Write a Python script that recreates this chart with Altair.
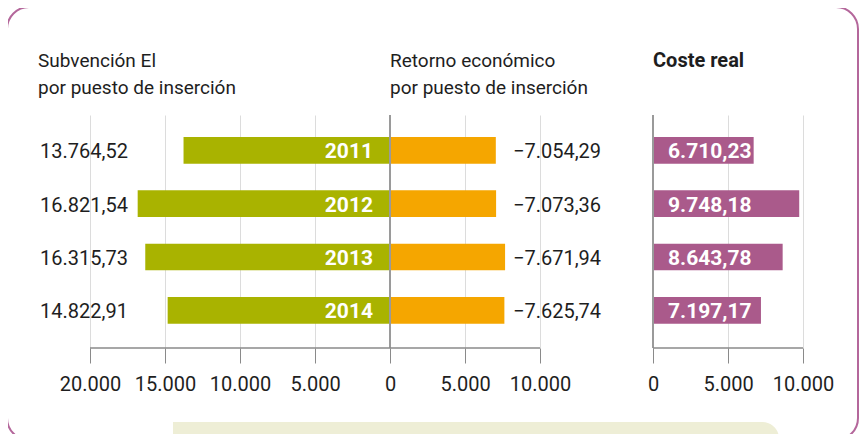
import altair as alt
import pandas as pd

# ---------------- data ----------------
years = ["2011", "2012", "2013", "2014"]
subvencion = [13764.52, 16821.54, 16315.73, 14822.91]
retorno = [-7054.29, -7073.36, -7671.94, -7625.74]
coste = [6710.23, 9748.18, 8643.78, 7197.17]

main_ticks = [-20000, -15000, -10000, -5000, 0, 5000, 10000]
coste_ticks = [0, 5000, 10000]

title_subv = ["Subvención El", "por puesto de inserción"]
title_ret = ["Retorno económico", "por puesto de inserción"]
title_coste = "Coste real"


def es(v):
    s = f"{abs(v):,.2f}".replace(",", "#").replace(".", ",").replace("#", ".")
    return ("\u2212" if v < 0 else "") + s


df = pd.DataFrame({"year": years, "subv": subvencion, "ret": retorno, "coste": coste})
df["subv_neg"] = -df["subv"]
df["ret_abs"] = df["ret"].abs()
df["subv_lbl"] = [es(v) for v in subvencion]
df["ret_lbl"] = [es(v) for v in retorno]
df["coste_lbl"] = [es(v) for v in coste]

one = pd.DataFrame({"k": [0]})

# ---------------- style ----------------
GREEN = "#a9b300"
ORANGE = "#f5a600"
PURPLE = "#aa5a8b"
FRAME = "#b4679b"
YELLOW = "#eeeed6"
TXT = "#1e1e1e"
FONT = "Roboto"

W, H = 713, 233
PAD = {"left": 82, "top": 107, "right": 56, "bottom": 86}
K = 0.015  # px per unit
main_domain = [-20000, -20000 + W / K]
coste_zero_px = 563
coste_domain = [-coste_zero_px / K, (W - coste_zero_px) / K]


def xs_main():
    return alt.Scale(domain=main_domain, nice=False, zero=False)


def xs_coste():
    return alt.Scale(domain=coste_domain, nice=False, zero=False)


label_expr = "replace(format(abs(datum.value), ','), ',', '.')"


def mk_axis(vals):
    return alt.Axis(
        values=vals, orient="bottom", labelExpr=label_expr, grid=True,
        gridColor="#dcdcdc", gridWidth=1, domain=False, ticks=True, tickSize=15,
        tickColor="#8a8a8a", tickWidth=1, labelPadding=11, labelFont=FONT,
        labelFontSize=20, labelColor=TXT, title=None, labelFlush=False,
        labelOverlap=False, zindex=0,
    )


def Y():
    return alt.Y("year:N", sort=years, axis=None,
                 scale=alt.Scale(paddingInner=0.5, paddingOuter=0.434, align=0.475))


base = alt.Chart(df)

green = base.mark_bar(color=GREEN).encode(
    x=alt.X("subv_neg:Q", scale=xs_main(), axis=mk_axis(main_ticks)),
    x2=alt.X2Datum(0), y=Y())
orange = base.mark_bar(color=ORANGE).encode(
    x=alt.X("ret_abs:Q", scale=xs_main(), axis=None),
    x2=alt.X2Datum(0), y=Y())
year_txt = base.mark_text(align="right", baseline="middle", dx=-17, dy=2, font=FONT,
                          fontWeight="bold", fontSize=21, color="white").encode(
    x=alt.XDatum(0, scale=xs_main(), axis=None), y=Y(), text="year:N")
zero_main = alt.Chart(one).mark_rule(color="#9a9a9a", strokeWidth=2).encode(
    x=alt.XDatum(0, scale=xs_main(), axis=None))
dom_main = alt.Chart(one).mark_rule(color="#8a8a8a", strokeWidth=1.5).encode(
    x=alt.XDatum(main_ticks[0], scale=xs_main(), axis=None),
    x2=alt.X2Datum(main_ticks[-1]), y=alt.value(H))
subv_txt = base.mark_text(align="left", baseline="middle", dy=2, font=FONT,
                          fontSize=20, color=TXT).encode(
    x=alt.value(-50), y=Y(), text="subv_lbl:N")
ret_txt = base.mark_text(align="left", baseline="middle", dy=2, font=FONT,
                         fontSize=20, color=TXT).encode(
    x=alt.value(423), y=Y(), text="ret_lbl:N")

purple = base.mark_bar(color=PURPLE).encode(
    x=alt.X("coste:Q", scale=xs_coste(), axis=mk_axis(coste_ticks)),
    x2=alt.X2Datum(0), y=Y())
coste_txt = base.mark_text(align="left", baseline="middle", dx=15, dy=2, font=FONT,
                           fontWeight="bold", fontSize=21, color="white").encode(
    x=alt.XDatum(0, scale=xs_coste(), axis=None), y=Y(), text="coste_lbl:N")
zero_coste = alt.Chart(one).mark_rule(color="#9a9a9a", strokeWidth=2).encode(
    x=alt.XDatum(0, scale=xs_coste(), axis=None))
dom_coste = alt.Chart(one).mark_rule(color="#8a8a8a", strokeWidth=1.5).encode(
    x=alt.XDatum(coste_ticks[0], scale=xs_coste(), axis=None),
    x2=alt.X2Datum(coste_ticks[-1]), y=alt.value(H))

frame = alt.Chart(one).mark_rect(fillOpacity=0, stroke=FRAME, strokeWidth=2,
                                 cornerRadius=22).encode(
    x=alt.value(-83), x2=alt.value(768), y=alt.value(-108), y2=alt.value(325))
yellow = alt.Chart(one).mark_rect(color=YELLOW, cornerRadiusTopRight=20).encode(
    x=alt.value(83), x2=alt.value(689), y=alt.value(307), y2=alt.value(340))


def title_text(txt, x, y, bold=False, size=19):
    return alt.Chart(one).mark_text(
        text=txt, align="left", baseline="alphabetic", font=FONT, fontSize=size,
        fontWeight="bold" if bold else "normal", color=TXT,
    ).encode(x=alt.value(x), y=alt.value(y))


titles = [
    title_text(title_subv[0], -52, -48),
    title_text(title_subv[1], -52, -21),
    title_text(title_ret[0], 300, -48),
    title_text(title_ret[1], 300, -21),
    title_text(title_coste, 563, -48, bold=True, size=20),
]

chart = alt.layer(
    green, purple, orange, zero_main, dom_main, year_txt, subv_txt, ret_txt,
    coste_txt, zero_coste, dom_coste, yellow, frame, *titles,
).resolve_scale(x="independent").resolve_axis(x="independent").properties(
    width=W, height=H,
    padding=PAD,
    autosize=alt.AutoSizeParams(type="none"),
    background="white",
).configure_view(stroke=None)

chart.save("out.html", embed_options={"renderer": "svg", "actions": False})
